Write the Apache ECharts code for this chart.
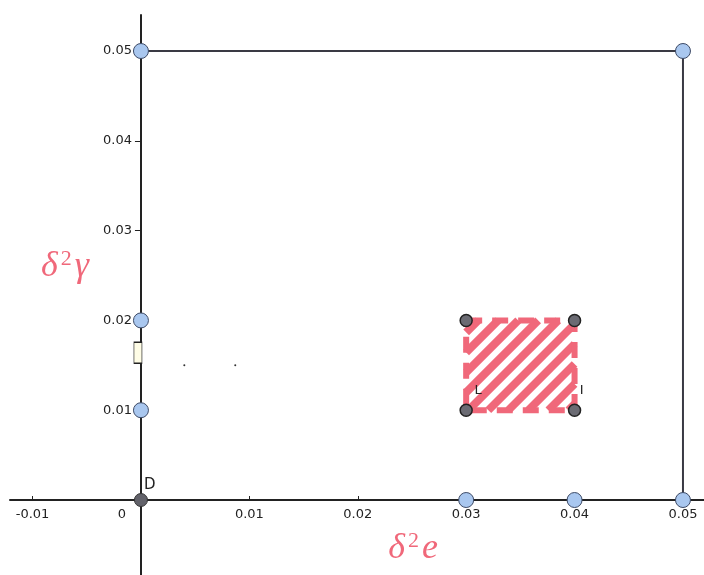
<!DOCTYPE html>
<html><head><meta charset="utf-8">
<script src="https://cdn.jsdelivr.net/npm/echarts@6/dist/echarts.min.js"></script>
<style>html,body{margin:0;padding:0;background:#fff}#c{width:704px;height:575px}</style>
</head><body><div id="c"></div>
<script>
const xTicks = [-0.01, 0, 0.01, 0.02, 0.03, 0.04, 0.05];
const yTicks = [0.01, 0.02, 0.03, 0.04, 0.05];
const xRange = [-0.01208, 0.05194];
const yRange = [-0.00835, 0.05401];
const outerBoundary = [[0, 0.05], [0.05, 0.05], [0.05, 0]];
const bluePoints = [[0, 0.05], [0.05, 0.05], [0, 0.02], [0, 0.01], [0.03, 0], [0.04, 0], [0.05, 0]];
const originPoint = [[0, 0]];
const originLabel = 'D';
const regionX = [0.03, 0.04];
const regionY = [0.01, 0.02];
const cornerPoints = [[0.03, 0.02], [0.04, 0.02], [0.03, 0.01], [0.04, 0.01]];
const cornerLabels = ['', '', 'L', 'I'];
const sliderMark = [[0, 0.0164]];
const strayDots = [[0.004, 0.015], [0.0087, 0.015]];
const xName = ['δ', '2', 'e'];
const yName = ['δ', '2', 'γ'];

const W = 704, H = 575;
const G = { left: 10, right: 0, top: 15, bottom: 0 };
const gw = W - G.left - G.right, gh = H - G.top - G.bottom;
// move axes from grid edges to the zero lines
const xAxisOffset = -(0 - yRange[0]) / (yRange[1] - yRange[0]) * gh;
const yAxisOffset = -(0 - xRange[0]) / (xRange[1] - xRange[0]) * gw;

const chart = echarts.init(document.getElementById('c'));
const red = '#f0687a';
const tickFont = 'DejaVu Sans';
const nameRich = {
  d: { fontSize: 36, fontFamily: 'Liberation Serif', fontStyle: 'italic', color: red, lineHeight: 38 },
  s: { fontSize: 22, fontFamily: 'Liberation Serif', color: red, verticalAlign: 'top', padding: [0, 3, 0, 3], lineHeight: 24 }
};
const mathName = parts => '{d|' + parts[0] + '}{s|' + parts[1] + '}{d|' + parts[2] + '}';
const cornerLabelPos = [[0, 0], [0, 0], [15, -19], [12, -19]];
const option = {
  animation: false,
  backgroundColor: '#fff',
  grid: Object.assign({ containLabel: false, outerBoundsMode: 'none' }, G),
  xAxis: {
    type: 'value', min: xRange[0], max: xRange[1], position: 'bottom', offset: xAxisOffset,
    axisLine: { onZero: false, lineStyle: { color: '#222', width: 2 } },
    axisTick: { show: true, inside: true, length: 4, customValues: xTicks, lineStyle: { color: '#222' } },
    axisLabel: {
      customValues: xTicks, color: '#222', fontSize: 13, margin: 8, fontFamily: tickFont,
      formatter: v => (v === 0 ? '{z|0}' : String(+v.toFixed(2))),
      rich: { z: { padding: [0, 38, 0, 0], fontSize: 13, color: '#222', fontFamily: tickFont } }
    },
    splitLine: { show: false },
    name: mathName(xName), nameLocation: 'middle', nameGap: 30,
    nameTextStyle: { padding: [0, 0, 0, 112], rich: nameRich }
  },
  yAxis: {
    type: 'value', min: yRange[0], max: yRange[1], position: 'left', offset: yAxisOffset,
    axisLine: { onZero: false, lineStyle: { color: '#222', width: 2 } },
    axisTick: { show: true, length: 6, customValues: yTicks, lineStyle: { color: '#222' } },
    axisLabel: { customValues: yTicks, color: '#222', fontSize: 13, margin: 9, fontFamily: tickFont,
      formatter: v => String(+v.toFixed(2)) },
    splitLine: { show: false },
    name: mathName(yName), nameLocation: 'middle', nameRotate: 0, nameGap: 52,
    nameTextStyle: { padding: [0, 0, 56, 0], rich: nameRich }
  },
  series: [
    { type: 'line', data: outerBoundary, symbol: 'none', lineStyle: { color: '#3a3a44', width: 2 }, z: 2 },
    {
      type: 'custom', z: 3,
      data: [[regionX[0], regionY[0], regionX[1], regionY[1]]],
      encode: { x: [0, 2], y: [1, 3] },
      renderItem: function (params, api) {
        const p0 = api.coord([api.value(0), api.value(3)]);
        const p1 = api.coord([api.value(2), api.value(1)]);
        const x0 = p0[0], yT = p0[1], x1 = p1[0], yB = p1[1];
        const children = [];
        const sp = 20;
        for (let c = x0 + yT + sp * 0.6; c < x1 + yB; c += sp) {
          const xa = Math.max(x0, c - yB), xb = Math.min(x1, c - yT);
          if (xb <= xa) continue;
          children.push({ type: 'line', shape: { x1: xa, y1: c - xa, x2: xb, y2: c - xb },
            style: { stroke: red, lineWidth: 8 } });
        }
        children.push({ type: 'rect', shape: { x: x0, y: yT, width: x1 - x0, height: yB - yT },
          style: { fill: null, stroke: red, lineWidth: 6, lineDash: [16, 10] } });
        return { type: 'group', children: children };
      }
    },
    { type: 'scatter', data: sliderMark, symbol: 'rect', symbolSize: [8, 21], symbolOffset: [-3, 0], z: 4,
      itemStyle: { color: '#fffde6', borderColor: '#222', borderWidth: 1, opacity: 1 } },
    { type: 'scatter', data: strayDots, symbolSize: 2, z: 4, itemStyle: { color: '#333', opacity: 1 } },
    { type: 'scatter', data: bluePoints, symbolSize: 15, z: 5,
      itemStyle: { color: '#a9c7ef', borderColor: '#3d4a66', borderWidth: 1, opacity: 1 } },
    { type: 'scatter', data: originPoint, symbolSize: 13, z: 5,
      itemStyle: { color: '#62626a', borderColor: '#333', borderWidth: 1, opacity: 1 },
      label: { show: true, formatter: originLabel, position: [10, -15], color: '#222', fontSize: 15, fontFamily: tickFont } },
    { type: 'scatter', z: 5, symbolSize: 12,
      data: cornerPoints.map((p, i) => ({ value: p,
        label: { show: cornerLabels[i] !== '', formatter: cornerLabels[i], position: cornerLabelPos[i] } })),
      itemStyle: { color: '#6b6b73', borderColor: '#222', borderWidth: 1.5, opacity: 1 },
      label: { color: '#222', fontSize: 13, fontFamily: tickFont } }
  ]
};
chart.setOption(option);
</script>
</body></html>
